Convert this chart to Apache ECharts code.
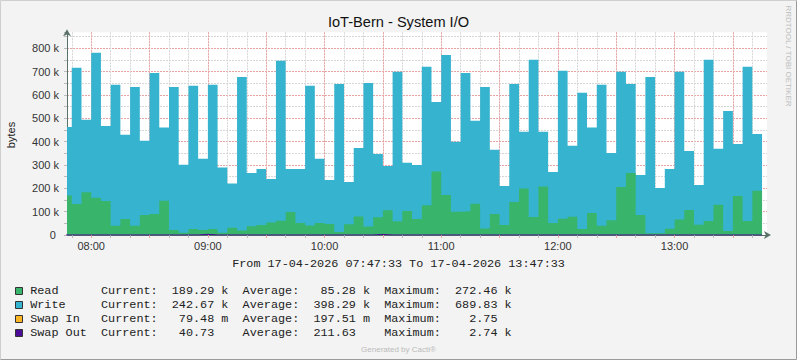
<!DOCTYPE html>
<html><head><meta charset="utf-8">
<script src="https://cdn.jsdelivr.net/npm/echarts@6/dist/echarts.min.js"></script>
<style>html,body{margin:0;padding:0;background:#f3f3f3}#c{width:797px;height:360px}</style>
</head><body><div id="c"></div>
<script>
// ---- data (values in k bytes) ----
const chartTitle = 'IoT-Bern - System I/O';
const rangeText = 'From 17-04-2026 07:47:33 To 17-04-2026 13:47:33';
const startMinute = 7 * 60 + 47 + 33 / 60;   // 07:47:33
const endMinute = startMinute + 360;         // 13:47:33
const firstSampleEnd = 7 * 60 + 50;          // first 5-min sample timestamp (07:50)
const stepMinutes = 5;

const read = [169,133,183,160,146,40,69,40,86,90,
  147,21,10,26,21,26,10,31,19,37,
  43,54,61,99,51,41,51,47,13,46,
  79,36,76,106,59,103,69,127,272,171,
  100,102,134,28,90,43,141,199,77,208,
  51,70,78,26,94,40,63,206,266,86,
  7,7,27,66,107,44,60,130,17,167,
  60,189];
const write = [294,583,311,620,321,603,360,594,318,604,
  313,613,291,613,306,617,279,189,658,229,
  240,186,685,184,232,598,275,189,634,181,
  294,615,271,190,640,206,231,593,298,600,
  299,592,355,606,275,167,506,243,673,234,
  219,633,304,583,366,603,288,493,381,171,
  670,194,256,633,253,170,690,239,514,223,
  660,243];
const swapIn = [0.0001,0.0002,0.0001,0.0003,0.0001,0.0002,0.0001,0.0001,0.0002,0.0001,
  0.0001,0.0002,0.0001,0.0027,0.0001,0.0002,0.0001,0.0001,0.0002,0.0001,
  0.0001,0.0001,0.0002,0.0001,0.0001,0.0002,0.0001,0.0001,0.0002,0.0001,
  0.0001,0.0002,0.0020,0.0001,0.0002,0.0001,0.0001,0.0002,0.0001,0.0001,
  0.0002,0.0001,0.0001,0.0002,0.0001,0.0001,0.0002,0.0001,0.0001,0.0002,
  0.0001,0.0001,0.0002,0.0001,0.0001,0.0002,0.0001,0.0001,0.0002,0.0001,
  0.0001,0.0002,0.0001,0.0001,0.0002,0.0001,0.0001,0.0002,0.0001,0.0001,
  0.0001,0.0001];
const swapOut = [0.08,0.12,0.06,0.15,0.10,0.09,0.11,0.07,0.13,0.10,
  0.08,0.12,0.09,0.14,2.74,0.11,0.08,0.10,0.12,0.09,
  0.07,0.11,0.13,0.08,0.10,0.09,0.12,0.07,0.11,0.10,
  0.09,0.13,2.45,0.10,0.08,0.12,0.09,0.11,0.10,0.07,
  0.12,0.09,0.10,0.08,0.13,0.11,0.09,0.10,0.12,0.08,
  0.10,0.11,0.09,0.07,0.12,0.10,0.08,0.11,0.13,0.09,
  0.10,0.08,0.12,0.09,0.11,0.10,0.07,0.12,0.09,0.10,
  0.08,0.04];

const xLabelValues = [480, 540, 600, 660, 720, 780];       // 08:00 .. 13:00
const xMinorGrid = [470,480,490,500,510,520,530,540,550,560,570,580,590,600,610,620,630,640,650,660,
  670,680,690,700,710,720,730,740,750,760,770,780,790,800,810,820];
const xMajorGrid = [480,510,540,570,600,630,660,690,720,750,780,810];
const yMax = 868;
const yMinorStep = 50;
const yMajorStep = 100;

const legendNames = ['Read', 'Write', 'Swap In', 'Swap Out'];
const legendColors = ['#38b56b', '#36b3cf', '#fbb525', '#4b0d98'];
const curVals = [189.29, 242.67, 79.48, 40.73];
const curUnits = ['k', 'k', 'm', ''];
const avgVals = [85.28, 398.29, 197.51, 211.63];
const avgUnits = ['k', 'k', 'm', ''];
const maxVals = [272.46, 689.83, 2.75, 2.74];
const maxUnits = ['k', 'k', '', 'k'];

// ---- build ----
const sampleEnds = read.map((_, i) => firstSampleEnd + i * stepMinutes);
function stepData(vals) {
  const d = [[sampleEnds[0] - stepMinutes, vals[0]]];
  vals.forEach((v, i) => d.push([sampleEnds[i], v]));
  return d;
}
// Write is stacked on top of Read (RRD STACK): its area reaches read + write
const readPlusWrite = read.map((r, i) => r + write[i]);
function hhmm(m) {
  const h = Math.floor(m / 60), mm = Math.round(m % 60);
  return String(h).padStart(2, '0') + ':' + String(mm).padStart(2, '0');
}
const RED = '#e9a3a3', GRAY = '#d6d6d6';
const DASH = [2, 1];

const SANS = 'Liberation Sans, Arial, sans-serif';
const MONO = 'Liberation Mono, Courier New, monospace';
const MONO_SIZE = 11.8, CW = MONO_SIZE * 0.6;

const graphics = [
  { type: 'polyline', shape: { points: [[0.5, 359.5], [0.5, 0.5], [796.5, 0.5]] }, style: { stroke: '#cfcfcf', fill: null, lineWidth: 1 }, silent: true },
  { type: 'polyline', shape: { points: [[0.5, 359.5], [796.5, 359.5], [796.5, 0.5]] }, style: { stroke: '#9a9a9a', fill: null, lineWidth: 1 }, silent: true },
  { type: 'text', x: 398.5, y: 22, style: { text: chartTitle, font: '14.6px ' + SANS, fill: '#111', align: 'center', verticalAlign: 'middle' } },
  { type: 'text', x: 11, y: 135, rotation: Math.PI / 2, style: { text: 'bytes', font: '11px ' + SANS, fill: '#222', align: 'center', verticalAlign: 'middle' } },
  { type: 'text', x: 788, y: 56, rotation: -Math.PI / 2, style: { text: 'RRDTOOL / TOBI OETIKER', font: '8px ' + SANS, fill: '#bdbdbd', align: 'center', verticalAlign: 'middle' } },
  { type: 'text', x: 398.5, y: 263.5, style: { text: rangeText, font: MONO_SIZE + 'px ' + MONO, fill: '#222', align: 'center', verticalAlign: 'middle' } },
  { type: 'text', x: 398.5, y: 349, style: { text: 'Generated by Cacti®', font: '8px ' + SANS, fill: '#bbbbbb', align: 'center', verticalAlign: 'middle' } }
];
const lx0 = 30.2;
legendNames.forEach((name, i) => {
  const y = 291 + i * 14;
  graphics.push({ type: 'rect', shape: { x: 15.5, y: y - 3.5, width: 7, height: 7 }, style: { fill: legendColors[i], stroke: '#333', lineWidth: 1 } });
  const t = (col, txt, align) => graphics.push({ type: 'text', x: lx0 + col * CW, y: y, style: { text: txt, font: MONO_SIZE + 'px ' + MONO, fill: '#222', align: align || 'left', verticalAlign: 'middle' } });
  t(0, name);
  t(10, 'Current:');
  t(26, curVals[i].toFixed(2), 'right');
  if (curUnits[i]) t(27, curUnits[i]);
  t(30, 'Average:');
  t(46, avgVals[i].toFixed(2), 'right');
  if (avgUnits[i]) t(47, avgUnits[i]);
  t(50, 'Maximum:');
  t(66, maxVals[i].toFixed(2), 'right');
  if (maxUnits[i]) t(67, maxUnits[i]);
});

const chart = echarts.init(document.getElementById('c'), null, { renderer: 'svg', width: 797, height: 360 });
const areaSeries = (name, vals, color, lineW) => ({
  name, type: 'line', step: 'start', symbol: 'none', data: stepData(vals), xAxisIndex: 0, yAxisIndex: 0,
  lineStyle: { width: lineW || 0, color }, areaStyle: { color, opacity: 1 }, itemStyle: { color }
});
chart.setOption({
  animation: false,
  backgroundColor: '#f3f3f3',
  grid: { left: 67, top: 32.3, width: 700, height: 202.7, show: true, backgroundColor: '#ffffff', borderWidth: 0, containLabel: false },
  xAxis: [{
    type: 'value', min: startMinute, max: endMinute, position: 'bottom',
    axisLine: { show: true, lineStyle: { color: '#5a716a', width: 1 }, symbol: ['none', 'arrow'], symbolSize: [6, 7], symbolOffset: [0, 4] },
    axisTick: { show: true, customValues: xMinorGrid, length: 3, lineStyle: { color: '#bbbbbb' } },
    axisLabel: { show: true, customValues: xLabelValues, formatter: v => hhmm(v), fontFamily: SANS, fontSize: 11, color: '#333', margin: 5 },
    splitLine: { show: true, lineStyle: { color: GRAY, type: DASH, width: 1 } }
  }, {
    type: 'value', min: startMinute, max: endMinute, position: 'bottom',
    axisLine: { show: false },
    axisTick: { show: true, customValues: xMajorGrid, length: 3, lineStyle: { color: RED } },
    axisLabel: { show: false },
    splitLine: { show: true, lineStyle: { color: RED, type: DASH, width: 1 } }
  }],
  yAxis: [{
    type: 'value', min: 0, max: yMax, interval: yMinorStep,
    axisLine: { show: true, onZero: false, lineStyle: { color: '#5a716a', width: 1 }, symbol: ['none', 'arrow'], symbolSize: [6, 7], symbolOffset: [0, 3] },
    axisTick: { show: true, length: 3, lineStyle: { color: '#bbbbbb' } },
    axisLabel: { fontFamily: SANS, fontSize: 11, color: '#333', margin: 8,
      formatter: v => (v % 100 === 0 ? (v === 0 ? '0 ' : v + ' k') : '') },
    splitLine: { show: true, showMaxLine: false, lineStyle: { color: GRAY, type: DASH, width: 1 } }
  }, {
    type: 'value', min: 0, max: yMax, interval: yMajorStep, position: 'left',
    axisLine: { show: false }, axisTick: { show: false }, axisLabel: { show: false },
    splitLine: { show: true, showMaxLine: false, lineStyle: { color: RED, type: DASH, width: 1 } }
  }],
  series: [
    areaSeries('Write', readPlusWrite, legendColors[1]),
    areaSeries('Read', read, legendColors[0]),
    areaSeries('Swap In', swapIn, legendColors[2]),
    areaSeries('Swap Out', swapOut, legendColors[3], 1)
  ],
  graphic: graphics
});
</script></body></html>
